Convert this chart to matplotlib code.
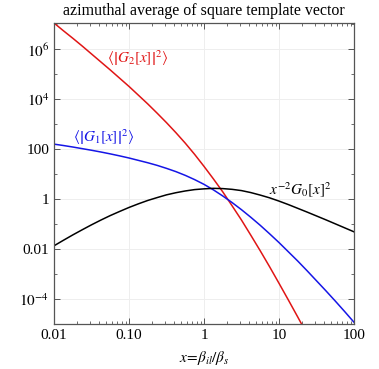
import numpy as np
import matplotlib
matplotlib.use("Agg")
import matplotlib.pyplot as plt
from matplotlib.ticker import FixedLocator, FixedFormatter, NullFormatter

plt.rcParams['font.family'] = ['Liberation Serif', 'DejaVu Serif']
plt.rcParams['mathtext.fontset'] = 'stix'

# values (log10 x, log10 y)
log_x = [-2.0, -1.875, -1.75, -1.625, -1.5, -1.375, -1.25, -1.125, -1.0,
         -0.875, -0.75, -0.625, -0.5, -0.375, -0.25, -0.125, 0.0,
         0.125, 0.25, 0.375, 0.5, 0.625, 0.75, 0.875, 1.0,
         1.125, 1.25, 1.375, 1.5, 1.625, 1.75, 1.875, 2.0]
log_g0 = [-1.87, -1.65, -1.435, -1.23, -1.03, -0.84, -0.66, -0.495, -0.335,
          -0.19, -0.055, 0.06, 0.17, 0.255, 0.325, 0.38, 0.41,
          0.43, 0.42, 0.39, 0.34, 0.26, 0.16, 0.05, -0.08,
          -0.22, -0.37, -0.52, -0.675, -0.83, -0.99, -1.15, -1.31]
log_g1 = [2.2, 2.145, 2.085, 2.02, 1.955, 1.885, 1.81, 1.73, 1.645,
          1.55, 1.455, 1.35, 1.23, 1.10, 0.95, 0.78, 0.59,
          0.37, 0.125, -0.14, -0.425, -0.73, -1.05, -1.39, -1.74,
          -2.11, -2.48, -2.87, -3.27, -3.67, -4.08, -4.50, -4.93]
log_x_red = log_x[:29]
log_g2 = [7.05, 6.74, 6.44, 6.13, 5.81, 5.49, 5.17, 4.84, 4.51,
          4.16, 3.81, 3.44, 3.06, 2.66, 2.24, 1.79, 1.31,
          0.81, 0.29, -0.27, -0.84, -1.45, -2.07, -2.71, -3.37,
          -4.04, -4.72, -5.41, -6.1]

x = 10.0 ** np.array(log_x)
xr = 10.0 ** np.array(log_x_red)
g0 = 10.0 ** np.array(log_g0)
g1 = 10.0 ** np.array(log_g1)
g2 = 10.0 ** np.array(log_g2)

xticks = [0.01, 0.1, 1, 10, 100]
xlabels = ["0.01", "0.10", "1", "10", "100"]
yticks = [1e-4, 1e-2, 1, 1e2, 1e4, 1e6]
ylabels = [r"$10^{-4}$", "0.01", "1", "100", r"$10^{4}$", r"$10^{6}$"]

fig = plt.figure(figsize=(3.79, 3.69), dpi=100)
ax = fig.add_axes([0.1425, 0.122, 0.7915, 0.8157])

ax.plot(xr, g2, color='#e01515', lw=1.1)
ax.plot(x, g1, color='#1515e6', lw=1.1)
ax.plot(x, g0, color='black', lw=1.1)

ax.set_xscale('log')
ax.set_yscale('log')
ax.set_xlim(0.01, 100)
ax.set_ylim(1e-5, 10 ** 7.05)

ax.xaxis.set_major_locator(FixedLocator(xticks))
ax.xaxis.set_major_formatter(FixedFormatter(xlabels))
minor_x = [m * 10.0 ** d for d in range(-2, 2) for m in range(2, 10)]
ax.xaxis.set_minor_locator(FixedLocator(minor_x))
ax.xaxis.set_minor_formatter(NullFormatter())
ax.yaxis.set_major_locator(FixedLocator(yticks))
ax.yaxis.set_major_formatter(FixedFormatter(ylabels))
ax.yaxis.set_minor_locator(FixedLocator([1e-5, 1e-3, 1e-1, 10, 1e3, 1e5, 1e7]))
ax.yaxis.set_minor_formatter(NullFormatter())

ax.tick_params(which='both', direction='in', top=True, right=True,
               labelsize=11, color='#555555')
ax.tick_params(which='major', length=4, width=0.7)
ax.tick_params(which='minor', length=2, width=0.6)
for s in ax.spines.values():
    s.set_color('#555555')
    s.set_linewidth(0.9)

ax.grid(True, which='major', color='#eeeeee', lw=0.7)
ax.set_axisbelow(True)

ax.set_title("azimuthal average of square template vector", fontsize=11.5, pad=6)
ax.set_xlabel(r"$x\!=\!\beta_{il}/\beta_s$", fontsize=11, labelpad=5)

ax.text(0.051, 4.5e5, r"$\langle\left|G_2[x]\right|^2\rangle$", color='#e01515',
        fontsize=11, va='center', ha='left')
ax.text(0.0179, 310, r"$\langle\left|G_1[x]\right|^2\rangle$", color='#1515e6',
        fontsize=11, va='center', ha='left')
ax.text(7.36, 2.36, r"$x^{-2}G_0[x]^2$", color='black',
        fontsize=11, va='center', ha='left')

fig.savefig("out.png", dpi=100)
